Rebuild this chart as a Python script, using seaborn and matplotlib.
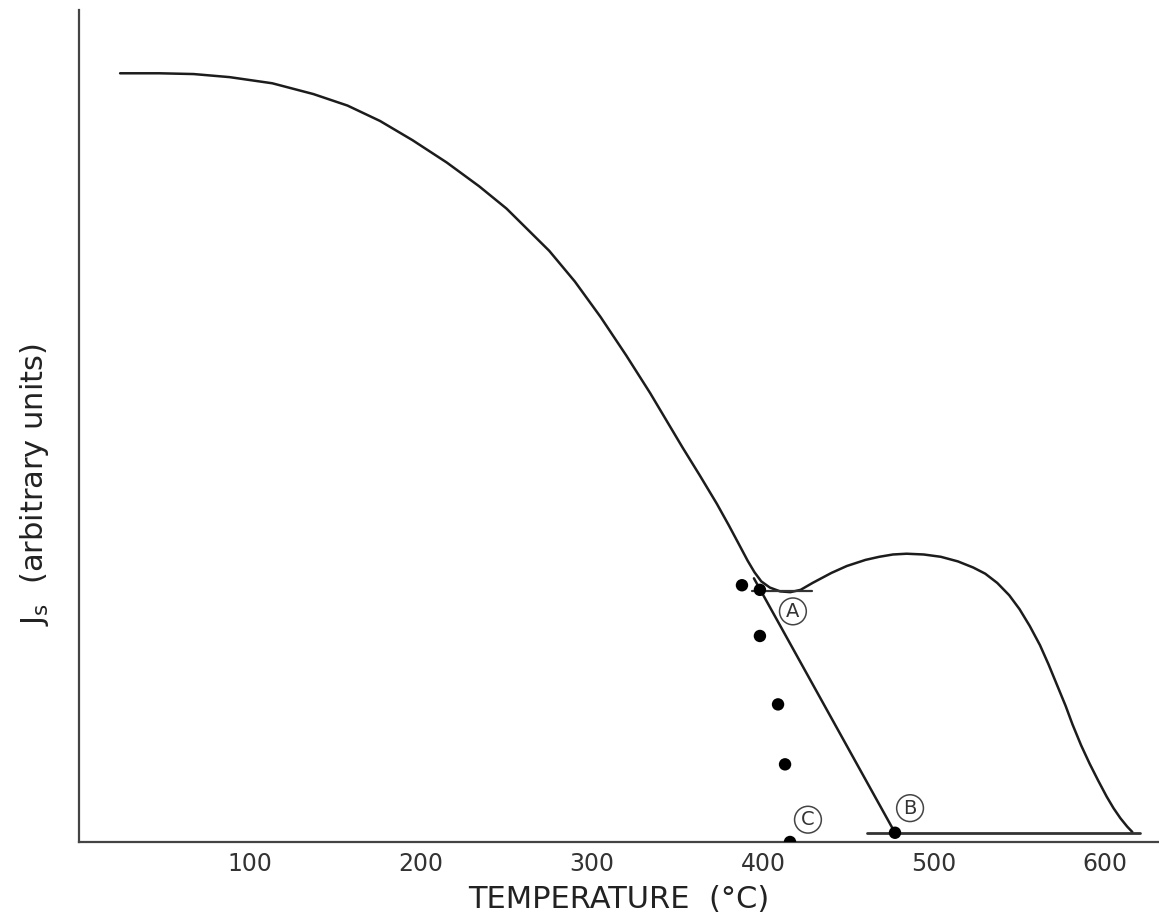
import matplotlib
matplotlib.use("Agg")
import matplotlib.pyplot as plt
import seaborn as sns
import pandas as pd

# Spontaneous magnetization vs temperature (arbitrary units)
T_main = [24.0, 47.0, 67.0, 88.0, 113.0, 137.0, 157.0, 176.0, 195.0, 215.0,
          234.0, 250.0, 275.0, 290.0, 305.0, 320.0, 334.0, 353.0, 363.0,
          373.0, 380.0, 386.0, 391.0, 395.0, 399.0, 404.0, 410.0, 416.0, 422.0,
          429.0, 440.0, 449.0, 460.0, 468.0, 476.0, 484.0, 494.0, 504.0,
          514.0, 523.0, 530.0, 537.0, 544.0, 550.0, 556.0, 562.0, 567.0,
          572.0, 577.0, 581.0, 586.0, 591.0, 596.0, 601.0, 605.0, 609.0,
          613.0, 616.0]
J_main = [1.000, 1.000, 0.999, 0.995, 0.987, 0.973, 0.958, 0.938, 0.913, 0.884,
          0.853, 0.824, 0.769, 0.729, 0.683, 0.633, 0.584, 0.513, 0.477,
          0.440, 0.412, 0.387, 0.366, 0.351, 0.339, 0.331, 0.326, 0.325, 0.328,
          0.337, 0.350, 0.359, 0.367, 0.371, 0.374, 0.375, 0.374, 0.371,
          0.365, 0.357, 0.349, 0.337, 0.321, 0.303, 0.281, 0.256, 0.231,
          0.204, 0.177, 0.153, 0.126, 0.102, 0.080, 0.059, 0.044, 0.031,
          0.020, 0.013]

# Straight-line extrapolation from A down to B
T_line = [394.7, 477.2]
J_line = [0.343, 0.012]

# Reference levels at A and B
T_level_A = [393.6, 428.7]
J_level_A = [0.326, 0.326]
T_level_B = [460.8, 620.5]
J_level_B = [0.012, 0.012]

# Measured points
T_pts = [387.7, 398.2, 398.2, 408.8, 412.9, 415.8, 477.2]
J_pts = [0.334, 0.328, 0.268, 0.179, 0.101, 0.0, 0.012]

# Circled point labels
lab_text = ["A", "B", "C"]
lab_T = [417.5, 486.0, 426.3]
lab_J = [0.300, 0.044, 0.029]

x_ticks = [100, 200, 300, 400, 500, 600]

sns.set_style("white")
plt.rcParams["font.family"] = ["DejaVu Sans"]

fig = plt.figure(figsize=(11.59, 9.15), dpi=100)
ax = fig.add_axes([0.0682, 0.0798, 0.9318, 0.909])

ink = "#1c1c1c"
df_main = pd.DataFrame({"T": T_main, "J": J_main})
sns.lineplot(data=df_main, x="T", y="J", sort=False, color=ink, lw=1.8, ax=ax)
sns.lineplot(x=T_line, y=J_line, sort=False, color=ink, lw=1.8, ax=ax)
sns.lineplot(x=T_level_A, y=J_level_A, sort=False, color="#333333", lw=1.6, ax=ax)
sns.lineplot(x=T_level_B, y=J_level_B, sort=False, color="#333333", lw=2.0, ax=ax)
sns.scatterplot(x=T_pts, y=J_pts, color="black", s=80, edgecolor="none",
                zorder=5, ax=ax)

for t, xx, yy in zip(lab_text, lab_T, lab_J):
    ax.text(xx, yy, t, fontsize=14, ha="center", va="center", color="#333333",
            bbox=dict(boxstyle="circle,pad=0.2", fc="white", ec="#444444", lw=1.1),
            zorder=6)

ax.set_xlim(0, 631.6)
ax.set_ylim(0, 1.082)
ax.set_xticks(x_ticks)
ax.set_xticklabels([str(v) for v in x_ticks])
ax.set_yticks([])
ax.tick_params(axis="x", direction="in", length=9, width=1.2, pad=7,
               labelsize=17, colors="#333333")

sns.despine(ax=ax, top=True, right=True)
for side in ("left", "bottom"):
    ax.spines[side].set_color("#444444")
    ax.spines[side].set_linewidth(1.6)

ax.set_xlabel("TEMPERATURE  (°C)", fontsize=22, color="#222222")
ax.xaxis.set_label_coords(0.5, -0.052)
ax.set_ylabel(r"$\mathregular{J_s}$  (arbitrary units)", fontsize=22, color="#222222")
ax.yaxis.set_label_coords(-0.026, 0.43)

fig.savefig("out.png", dpi=100, facecolor="white")
